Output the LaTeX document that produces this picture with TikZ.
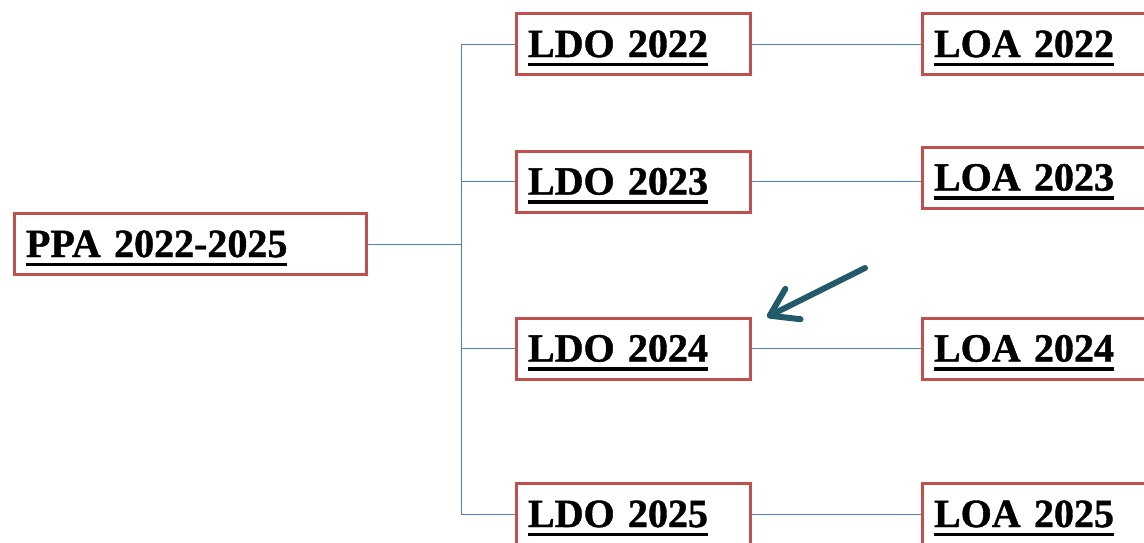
\documentclass[tikz,border=0pt]{standalone}
\usepackage{fontspec}
\setmainfont{Liberation Serif}[WordSpace=0.7, BoldFeatures={FakeBold=1}]
\usetikzlibrary{arrows.meta}
\definecolor{boxred}{HTML}{C0504D}
\definecolor{linkblue}{HTML}{4F81BD}
\definecolor{arrowteal}{HTML}{215B69}
\newcommand\ulbox[1]{\setbox0\hbox{#1}\rlap{\rule[-4.5pt]{\wd0}{1.7pt}}\box0}

\begin{document}
\begin{tikzpicture}
  [ x=0.5pt, y=-0.5pt,
    box/.style={rectangle, draw=boxred, line width=1.5pt, minimum height=30.5pt,
      inner xsep=5.75pt, inner ysep=2pt, align=left, text height=15pt, text depth=2pt,
      font=\fontsize{20}{24}\selectfont\bfseries},
    ppabox/.style={box, text width=164.5pt},
    ldobox/.style={box, text width=105.5pt},
    loabox/.style={box, text width=105.5pt},
    link/.style={-, linkblue, line width=0.5pt},
    pointer/.style={-{Straight Barb[length=13pt, width=17pt, round]}, arrowteal, line width=3pt, line cap=round}
  ]
  \useasboundingbox (0,0) rectangle (1144,542);

  \node[ppabox] (ppa) at (190.5,244) {\ulbox{PPA 2022-2025}};

  \node[ldobox] (ldo22) at (633.5,44) {\ulbox{LDO 2022}};
  \node[ldobox] (ldo23) at (633.5,181.5) {\ulbox{LDO 2023}};
  \node[ldobox] (ldo24) at (633.5,348.5) {\ulbox{LDO 2024}};
  \node[ldobox] (ldo25) at (633.5,514) {\ulbox{LDO 2025}};

  \node[loabox] (loa22) at (1039.5,44) {\ulbox{LOA 2022}};
  \node[loabox] (loa23) at (1039.5,177.5) {\ulbox{LOA 2023}};
  \node[loabox] (loa24) at (1039.5,348.5) {\ulbox{LOA 2024}};
  \node[loabox] (loa25) at (1039.5,514) {\ulbox{LOA 2025}};

  \coordinate (fork) at (461,244);
  \draw [link] (ppa.east) -- (fork);
  \draw [link] (fork) |- (ldo22.west);
  \draw [link] (fork) |- (ldo23.west);
  \draw [link] (fork) |- (ldo24.west);
  \draw [link] (fork) |- (ldo25.west);

  \draw [link] (ldo22.east) -- (ldo22.east -| loa22.west);
  \draw [link] (ldo23.east) -- (ldo23.east -| loa23.west);
  \draw [link] (ldo24.east) -- (ldo24.east -| loa24.west);
  \draw [link] (ldo25.east) -- (ldo25.east -| loa25.west);

  \coordinate (tail) at (865,268);
  \coordinate (tip) at (767,317);
  \draw [pointer] (tail) -- (tip);
\end{tikzpicture}
\end{document}
